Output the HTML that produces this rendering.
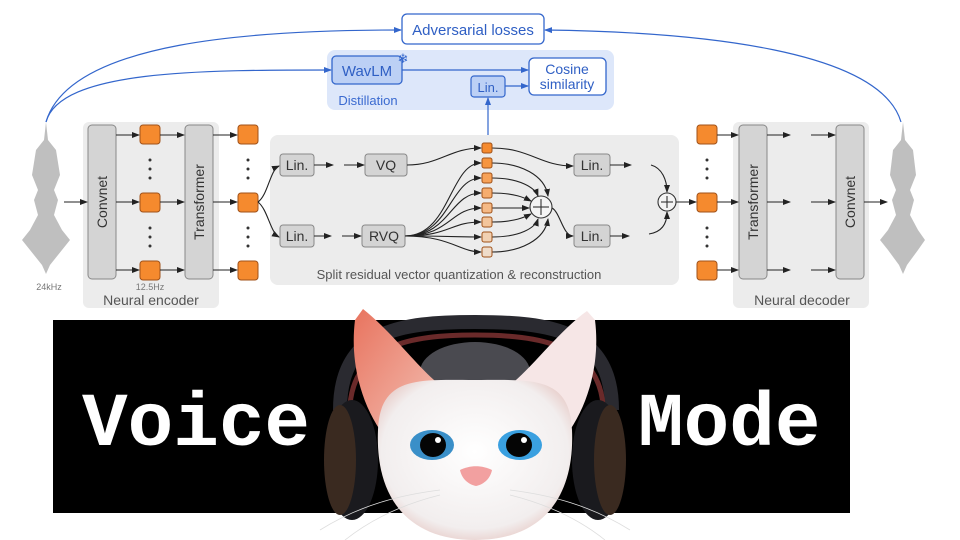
<!DOCTYPE html>
<html><head><meta charset="utf-8"><style>
html,body{margin:0;padding:0;background:#fff;width:960px;height:540px;overflow:hidden}
svg{display:block}
</style></head><body>
<svg width="960" height="540" viewBox="0 0 960 540" xmlns="http://www.w3.org/2000/svg" font-family="Liberation Sans, sans-serif">
<defs>
<marker id="ab" markerWidth="8" markerHeight="8" refX="7" refY="4" orient="auto" markerUnits="userSpaceOnUse"><path d="M0,1 L8,4 L0,7z" fill="#222"/></marker>
<marker id="abl" markerWidth="8" markerHeight="8" refX="7" refY="4" orient="auto" markerUnits="userSpaceOnUse"><path d="M0,1 L8,4 L0,7z" fill="#3366cc"/></marker>
<linearGradient id="ear" x1="0" y1="0" x2="1" y2="1"><stop offset="0" stop-color="#e8735e"/><stop offset="1" stop-color="#f3c0b4"/></linearGradient>
<radialGradient id="face" cx="0.5" cy="0.45" r="0.6"><stop offset="0" stop-color="#ffffff"/><stop offset="0.8" stop-color="#f2eeee"/><stop offset="1" stop-color="#e6c8c4"/></radialGradient>
</defs>

<!-- blue top area -->
<rect x="327" y="50" width="287" height="60" rx="8" fill="#dde7fa"/>
<rect x="402" y="14" width="142" height="30" rx="5" fill="#fff" stroke="#3366cc" stroke-width="1.3"/>
<text x="473" y="35" font-size="15" fill="#2f5fc4" text-anchor="middle">Adversarial losses</text>
<rect x="332" y="56" width="70" height="28" rx="4" fill="#bcd0f5" stroke="#3366cc" stroke-width="1.3"/>
<text x="367" y="76" font-size="15" fill="#2f5fc4" text-anchor="middle">WavLM</text>
<text x="403" y="63" font-size="13" fill="#3366cc" text-anchor="middle">❄</text>
<text x="368" y="105" font-size="13" fill="#3a6ad0" text-anchor="middle">Distillation</text>
<rect x="471" y="76" width="34" height="21" rx="3" fill="#bcd0f5" stroke="#3366cc" stroke-width="1.2"/>
<text x="488" y="92" font-size="13" fill="#2f5fc4" text-anchor="middle">Lin.</text>
<rect x="529" y="58" width="77" height="37" rx="5" fill="#fff" stroke="#3366cc" stroke-width="1.3"/>
<text x="567" y="74" font-size="14" fill="#2f5fc4" text-anchor="middle">Cosine</text>
<text x="567" y="89" font-size="14" fill="#2f5fc4" text-anchor="middle">similarity</text>
<g stroke="#3366cc" stroke-width="1.2" fill="none">
<line x1="402" y1="70" x2="528" y2="70" marker-end="url(#abl)"/>
<line x1="505" y1="86" x2="528" y2="86" marker-end="url(#abl)"/>
<line x1="488" y1="145" x2="488" y2="98" marker-end="url(#abl)"/>
<path d="M46,122 C60,70 200,70 331,70" marker-end="url(#abl)"/>
<path d="M46,122 C70,40 260,30 401,30" marker-end="url(#abl)"/>
<path d="M901,122 C880,50 700,32 545,30" marker-end="url(#abl)"/>
</g>

<!-- waveforms -->
<g fill="#8c8c8c" opacity="0.55">
<path d="M46,122 L48,140 L56,150 L60,175 L54,190 L58,200 L54,215 L62,230 L70,240 L62,250 L50,265 L46,274 L42,265 L30,250 L22,240 L30,230 L38,215 L34,200 L38,190 L32,175 L36,150 L44,140z"/>
<path d="M46,130 L50,160 L52,200 L50,240 L46,270 L42,240 L40,200 L42,160z"/>
</g>
<g fill="#8c8c8c" opacity="0.55">
<path d="M903,122 L905,140 L913,150 L916,175 L910,190 L914,200 L910,215 L918,230 L925,240 L918,250 L907,265 L903,274 L899,265 L888,250 L880,240 L888,230 L896,215 L892,200 L896,190 L890,175 L893,150 L901,140z"/>
<path d="M903,130 L907,160 L909,200 L907,240 L903,270 L899,240 L897,200 L899,160z"/>
</g>
<text x="49" y="290" font-size="9" fill="#777" text-anchor="middle">24kHz</text>

<!-- encoder -->
<rect x="83" y="122" width="136" height="186" rx="6" fill="#ececec"/>
<rect x="88" y="125" width="28" height="154" rx="4" fill="#d4d4d4" stroke="#888"/>
<text transform="translate(107,202) rotate(-90)" font-size="14" fill="#333" text-anchor="middle">Convnet</text>
<rect x="185" y="125" width="28" height="154" rx="4" fill="#d4d4d4" stroke="#888"/>
<text transform="translate(204,202) rotate(-90)" font-size="14" fill="#333" text-anchor="middle">Transformer</text>
<g fill="#f58a2e" stroke="#a0521a" stroke-width="1">
<rect x="140" y="125" width="20" height="19" rx="3"/><rect x="140" y="193" width="20" height="19" rx="3"/><rect x="140" y="261" width="20" height="19" rx="3"/>
<rect x="238" y="125" width="20" height="19" rx="3"/><rect x="238" y="193" width="20" height="19" rx="3"/><rect x="238" y="261" width="20" height="19" rx="3"/>
<rect x="697" y="125" width="20" height="19" rx="3"/><rect x="697" y="193" width="20" height="19" rx="3"/><rect x="697" y="261" width="20" height="19" rx="3"/>
<rect x="791" y="125" width="20" height="19" rx="3"/><rect x="791" y="193" width="20" height="19" rx="3"/><rect x="791" y="261" width="20" height="19" rx="3"/>
<rect x="632" y="156" width="19" height="19" rx="3"/><rect x="630" y="225" width="19" height="19" rx="3"/>
<rect x="334" y="160" width="10" height="10" rx="2"/><rect x="332" y="231" width="10" height="10" rx="2"/>
</g>
<g fill="#333">
<circle cx="150" cy="160" r="1.5"/><circle cx="150" cy="169" r="1.5"/><circle cx="150" cy="178" r="1.5"/>
<circle cx="150" cy="228" r="1.5"/><circle cx="150" cy="237" r="1.5"/><circle cx="150" cy="246" r="1.5"/>
<circle cx="248" cy="160" r="1.5"/><circle cx="248" cy="169" r="1.5"/><circle cx="248" cy="178" r="1.5"/>
<circle cx="248" cy="228" r="1.5"/><circle cx="248" cy="237" r="1.5"/><circle cx="248" cy="246" r="1.5"/>
<circle cx="707" cy="160" r="1.5"/><circle cx="707" cy="169" r="1.5"/><circle cx="707" cy="178" r="1.5"/>
<circle cx="707" cy="228" r="1.5"/><circle cx="707" cy="237" r="1.5"/><circle cx="707" cy="246" r="1.5"/>
<circle cx="801" cy="160" r="1.5"/><circle cx="801" cy="169" r="1.5"/><circle cx="801" cy="178" r="1.5"/>
<circle cx="801" cy="228" r="1.5"/><circle cx="801" cy="237" r="1.5"/><circle cx="801" cy="246" r="1.5"/>
</g>
<text x="150" y="290" font-size="9" fill="#777" text-anchor="middle">12.5Hz</text>
<text x="151" y="305" font-size="14" fill="#555" text-anchor="middle">Neural encoder</text>
<g stroke="#222" stroke-width="1.1" fill="none">
<line x1="64" y1="202" x2="87" y2="202" marker-end="url(#ab)"/>
<line x1="116" y1="135" x2="139" y2="135" marker-end="url(#ab)"/><line x1="116" y1="202" x2="139" y2="202" marker-end="url(#ab)"/><line x1="116" y1="270" x2="139" y2="270" marker-end="url(#ab)"/>
<line x1="160" y1="135" x2="184" y2="135" marker-end="url(#ab)"/><line x1="160" y1="202" x2="184" y2="202" marker-end="url(#ab)"/><line x1="160" y1="270" x2="184" y2="270" marker-end="url(#ab)"/>
<line x1="213" y1="135" x2="237" y2="135" marker-end="url(#ab)"/><line x1="213" y1="202" x2="237" y2="202" marker-end="url(#ab)"/><line x1="213" y1="270" x2="237" y2="270" marker-end="url(#ab)"/>
</g>

<!-- split panel -->
<rect x="270" y="135" width="409" height="150" rx="8" fill="#ececec"/>
<g fill="#d4d4d4" stroke="#888">
<rect x="280" y="154" width="34" height="22" rx="3"/><rect x="365" y="154" width="42" height="22" rx="3"/>
<rect x="280" y="225" width="34" height="22" rx="3"/><rect x="362" y="225" width="43" height="22" rx="3"/>
<rect x="574" y="154" width="36" height="22" rx="3"/><rect x="574" y="225" width="36" height="22" rx="3"/>
</g>
<g font-size="14" fill="#333" text-anchor="middle">
<text x="297" y="170">Lin.</text><text x="386" y="170">VQ</text>
<text x="297" y="241">Lin.</text><text x="384" y="241">RVQ</text>
<text x="592" y="170">Lin.</text><text x="592" y="241">Lin.</text>
</g>
<text x="459" y="279" font-size="13" fill="#555" text-anchor="middle">Split residual vector quantization &amp; reconstruction</text>
<g stroke="#222" stroke-width="1.1" fill="none">
<path d="M258,202 C268,195 270,170 279,166" marker-end="url(#ab)"/>
<path d="M258,202 C268,210 270,232 279,237" marker-end="url(#ab)"/>
<line x1="314" y1="165" x2="333" y2="165" marker-end="url(#ab)"/><line x1="344" y1="165" x2="364" y2="165" marker-end="url(#ab)"/>
<line x1="314" y1="236" x2="331" y2="236" marker-end="url(#ab)"/><line x1="342" y1="236" x2="361" y2="236" marker-end="url(#ab)"/>
<path d="M407,165 C440,165 450,148 481,148" marker-end="url(#ab)"/>
<path d="M405,236 C450,236 450,163 481,163" marker-end="url(#ab)"/>
<path d="M405,236 C450,236 450,178 481,178" marker-end="url(#ab)"/>
<path d="M405,236 C450,236 450,193 481,193" marker-end="url(#ab)"/>
<path d="M405,236 C450,236 450,208 481,208" marker-end="url(#ab)"/>
<path d="M405,236 C450,236 450,222 481,222" marker-end="url(#ab)"/>
<path d="M405,236 C450,236 460,237 481,237" marker-end="url(#ab)"/>
<path d="M405,236 C450,236 460,252 481,252" marker-end="url(#ab)"/>
<path d="M492,148 C530,148 540,166 573,166" marker-end="url(#ab)"/>
<path d="M492,163 C520,163 545,175 548,196" marker-end="url(#ab)"/>
<path d="M492,178 C520,178 535,188 538,196" marker-end="url(#ab)"/>
<path d="M492,193 C515,193 525,198 531,201" marker-end="url(#ab)"/>
<line x1="492" y1="208" x2="529" y2="208" marker-end="url(#ab)"/>
<path d="M492,222 C515,222 525,217 531,214" marker-end="url(#ab)"/>
<path d="M492,237 C520,237 535,228 538,219" marker-end="url(#ab)"/>
<path d="M492,252 C520,252 545,240 548,219" marker-end="url(#ab)"/>
<path d="M552,208 C560,212 563,236 573,236" marker-end="url(#ab)"/>
<line x1="610" y1="165" x2="631" y2="165" marker-end="url(#ab)"/>
<line x1="610" y1="236" x2="629" y2="236" marker-end="url(#ab)"/>
<path d="M651,165 C662,168 667,180 667,192" marker-end="url(#ab)"/>
<path d="M649,234 C662,232 667,224 667,212" marker-end="url(#ab)"/>
<line x1="676" y1="202" x2="696" y2="202" marker-end="url(#ab)"/>
</g>
<g stroke="#a0521a" stroke-width="1">
<rect x="482" y="143" width="10" height="10" rx="2" fill="#f58a2e"/>
<rect x="482" y="158" width="10" height="10" rx="2" fill="#f6953f"/>
<rect x="482" y="173" width="10" height="10" rx="2" fill="#f7a258"/>
<rect x="482" y="188" width="10" height="10" rx="2" fill="#f6ad6e"/>
<rect x="482" y="203" width="10" height="10" rx="2" fill="#f5b985"/>
<rect x="482" y="217" width="10" height="10" rx="2" fill="#f3c59b"/>
<rect x="482" y="232" width="10" height="10" rx="2" fill="#f1d1b3"/>
<rect x="482" y="247" width="10" height="10" rx="2" fill="#efdcca"/>
</g>
<g stroke="#333" stroke-width="1.1" fill="#f4f4f4">
<circle cx="541" cy="207" r="11"/><circle cx="667" cy="202" r="9"/>
</g>
<g stroke="#333" stroke-width="1.1">
<line x1="533" y1="207" x2="549" y2="207"/><line x1="541" y1="199" x2="541" y2="215"/>
<line x1="661" y1="202" x2="673" y2="202"/><line x1="667" y1="196" x2="667" y2="208"/>
</g>

<!-- decoder -->
<rect x="733" y="122" width="136" height="186" rx="6" fill="#ececec"/>
<rect x="739" y="125" width="28" height="154" rx="4" fill="#d4d4d4" stroke="#888"/>
<text transform="translate(758,202) rotate(-90)" font-size="14" fill="#333" text-anchor="middle">Transformer</text>
<rect x="836" y="125" width="28" height="154" rx="4" fill="#d4d4d4" stroke="#888"/>
<text transform="translate(855,202) rotate(-90)" font-size="14" fill="#333" text-anchor="middle">Convnet</text>
<text x="802" y="305" font-size="14" fill="#555" text-anchor="middle">Neural decoder</text>
<g stroke="#222" stroke-width="1.1" fill="none">
<line x1="717" y1="135" x2="738" y2="135" marker-end="url(#ab)"/><line x1="717" y1="202" x2="738" y2="202" marker-end="url(#ab)"/><line x1="717" y1="270" x2="738" y2="270" marker-end="url(#ab)"/>
<line x1="767" y1="135" x2="790" y2="135" marker-end="url(#ab)"/><line x1="767" y1="202" x2="790" y2="202" marker-end="url(#ab)"/><line x1="767" y1="270" x2="790" y2="270" marker-end="url(#ab)"/>
<line x1="811" y1="135" x2="835" y2="135" marker-end="url(#ab)"/><line x1="811" y1="202" x2="835" y2="202" marker-end="url(#ab)"/><line x1="811" y1="270" x2="835" y2="270" marker-end="url(#ab)"/>
<line x1="864" y1="202" x2="887" y2="202" marker-end="url(#ab)"/>
</g>

<!-- black banner -->
<rect x="53" y="320" width="797" height="193" fill="#000"/>
<text x="82" y="445" font-family="Liberation Mono, monospace" font-weight="bold" font-size="76" fill="#fff">Voice</text>
<text x="638" y="445" font-family="Liberation Mono, monospace" font-weight="bold" font-size="76" fill="#fff">Mode</text>

<!-- cat -->
<path d="M340,410 C340,330 400,322 475,322 C550,322 612,330 612,410" fill="none" stroke="#2a2a30" stroke-width="14"/>
<path d="M350,405 C355,345 410,335 475,335 C540,335 598,345 603,405" fill="none" stroke="#6a2a2a" stroke-width="5"/>
<ellipse cx="475" cy="372" rx="55" ry="30" fill="#4a4a50"/>
<path d="M355,320 L363,309 C390,330 420,370 440,385 L380,430 C360,400 350,360 355,320z" fill="url(#ear)"/>
<path d="M595,320 L587,311 C560,330 530,370 510,385 L570,430 C590,400 600,360 595,320z" fill="#f6e6e6"/>
<path d="M378,430 C380,375 420,380 475,380 C530,380 570,375 572,430 C575,500 540,540 475,540 C410,540 375,500 378,430z" fill="url(#face)"/>
<ellipse cx="352" cy="460" rx="26" ry="60" fill="#1a1a1e"/>
<ellipse cx="340" cy="460" rx="16" ry="55" fill="#3a2a20"/>
<ellipse cx="598" cy="460" rx="26" ry="60" fill="#1a1a1e"/>
<ellipse cx="610" cy="460" rx="16" ry="55" fill="#3a2a20"/>
<ellipse cx="432" cy="445" rx="22" ry="15" fill="#3a8fc8"/>
<ellipse cx="433" cy="445" rx="13" ry="12" fill="#050505"/>
<circle cx="438" cy="440" r="3" fill="#fff"/>
<ellipse cx="520" cy="445" rx="22" ry="15" fill="#3aa0e0"/>
<ellipse cx="519" cy="445" rx="13" ry="12" fill="#050505"/>
<circle cx="524" cy="440" r="3" fill="#fff"/>
<path d="M460,470 C470,465 482,465 492,470 C490,480 482,485 476,486 C470,485 462,480 460,470z" fill="#f2a0a0"/>
<g stroke="#ddd" stroke-width="0.8" fill="none">
<path d="M440,490 C400,495 360,505 320,530"/><path d="M440,495 C400,505 370,520 345,540"/>
<path d="M510,490 C550,495 590,505 630,530"/><path d="M510,495 C550,505 580,520 605,540"/>
</g>
</svg>
</body></html>
